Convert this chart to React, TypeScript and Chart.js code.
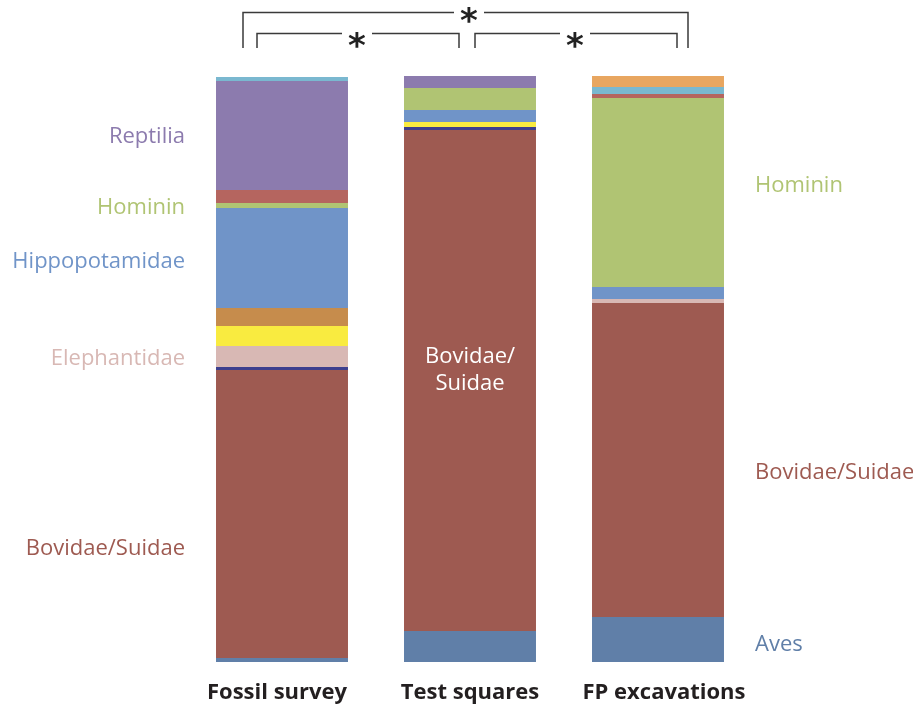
import React, { useEffect, useRef } from "react";
import { Chart, registerables } from "chart.js";

Chart.register(...registerables);

const categories = ["Fossil survey", "Test squares", "FP excavations"];

// Percent of specimens per taxon, stacked bottom to top
const aves = [0.68, 5.29, 7.68];
const bovidaeSuidae = [49.15, 85.49, 53.58];
const otherDarkBlue = [0.51, 0.51, 0];
const elephantidae = [3.58, 0, 0.68];
const otherYellow = [3.41, 0.85, 0];
const otherBrown = [3.07, 0, 0];
const hippopotamidae = [17.06, 2.05, 2.05];
const hominin = [0.85, 3.75, 32.25];
const otherRed = [2.22, 0, 0.68];
const reptilia = [18.6, 2.05, 0];
const otherCyan = [0.68, 0, 1.19];
const otherOrange = [0, 0, 2.05];

const seriesNames = [
  "Aves", "Bovidae/Suidae", "Other taxon A", "Elephantidae", "Other taxon B",
  "Other taxon C", "Hippopotamidae", "Hominin", "Other taxon D", "Reptilia",
  "Other taxon E", "Other taxon F",
];
const seriesValues = [
  aves, bovidaeSuidae, otherDarkBlue, elephantidae, otherYellow, otherBrown,
  hippopotamidae, hominin, otherRed, reptilia, otherCyan, otherOrange,
];
const seriesColors = [
  "#607FA8", "#9E5A51", "#3D3F8E", "#D8B8B4", "#F9EB40", "#C68C4C",
  "#7094C8", "#B0C473", "#B5655F", "#8C7BAE", "#7AB8D0", "#E8A660",
];

// side labels: text, colour index, value on the percent axis
const leftLabels = [
  { text: "Reptilia", color: 9, value: 89.9 },
  { text: "Hominin", color: 7, value: 77.9 },
  { text: "Hippopotamidae", color: 6, value: 68.6 },
  { text: "Elephantidae", color: 3, value: 52.05 },
  { text: "Bovidae/Suidae", color: 1, value: 19.6 },
];
const rightLabels = [
  { text: "Hominin", color: 7, value: 81.6 },
  { text: "Bovidae/Suidae", color: 1, value: 32.6 },
  { text: "Aves", color: 0, value: 3.24 },
];
const innerLabelLines = ["Bovidae/", "Suidae"];

const FONT = "'Open Sans', 'Noto Sans', sans-serif";

const overlayPlugin = {
  id: "overlay",
  afterDraw(chart: any) {
    const ctx = chart.ctx;
    const xs = chart.scales.x;
    const ys = chart.scales.y;
    const x0 = xs.getPixelForValue(0);
    const x1 = xs.getPixelForValue(1);
    const x2 = xs.getPixelForValue(2);
    ctx.save();

    // side labels
    ctx.font = `22px ${FONT}`;
    ctx.textBaseline = "middle";
    ctx.textAlign = "right";
    for (const l of leftLabels) {
      ctx.fillStyle = seriesColors[l.color];
      ctx.fillText(l.text, x0 - 97, ys.getPixelForValue(l.value) + 2);
    }
    ctx.textAlign = "left";
    for (const l of rightLabels) {
      ctx.fillStyle = seriesColors[l.color];
      ctx.fillText(l.text, x2 + 97, ys.getPixelForValue(l.value) + 2);
    }

    // inner label
    ctx.textAlign = "center";
    ctx.fillStyle = "#FFFFFF";
    ctx.fillText(innerLabelLines[0], x1, ys.getPixelForValue(52.4) + 2);
    ctx.fillText(innerLabelLines[1], x1, ys.getPixelForValue(47.8) + 2);

    // category labels
    ctx.font = `bold 22px ${FONT}`;
    ctx.fillStyle = "#231F20";
    const catShift = [-5, 0, 6];
    categories.forEach((c, i) => {
      ctx.fillText(c, xs.getPixelForValue(i) + catShift[i], chart.chartArea.bottom + 31);
    });

    // significance brackets
    ctx.strokeStyle = "#3A3A3A";
    ctx.lineWidth = 1.5;
    const bottomY = 48;
    const brackets = [
      { a: x0 - 39, b: x2 + 30, y: 12.5, star: (x1 + x2) / 2 - 95, sy: 15, gap: 15 },
      { a: x0 - 25, b: x1 - 11, y: 33.5, star: (x0 + x1) / 2 - 19, sy: 40, gap: 15 },
      { a: x1 + 5, b: x2 + 19, y: 33.5, star: (x1 + x2) / 2 + 11, sy: 40, gap: 15 },
    ];
    for (const br of brackets) {
      ctx.beginPath();
      ctx.moveTo(br.a, bottomY);
      ctx.lineTo(br.a, br.y);
      ctx.lineTo(br.star - br.gap, br.y);
      ctx.moveTo(br.star + br.gap, br.y);
      ctx.lineTo(br.b, br.y);
      ctx.lineTo(br.b, bottomY);
      ctx.stroke();
      ctx.font = `bold 34px 'DejaVu Sans', sans-serif`;
      ctx.fillStyle = "#222222";
      ctx.textBaseline = "alphabetic";
      ctx.textAlign = "left";
      const m = ctx.measureText("*");
      const w = m.actualBoundingBoxRight + m.actualBoundingBoxLeft;
      const h = m.actualBoundingBoxAscent + m.actualBoundingBoxDescent;
      ctx.fillText(
        "*",
        br.star - w / 2 + m.actualBoundingBoxLeft,
        br.sy + h / 2 - m.actualBoundingBoxDescent
      );
    }
    ctx.restore();
  },
};

export default function App() {
  const ref = useRef<HTMLCanvasElement | null>(null);
  useEffect(() => {
    if (!ref.current) return;
    const chart = new Chart(ref.current, {
      type: "bar",
      data: {
        labels: categories,
        datasets: seriesNames.map((name, i) => ({
          label: name,
          data: seriesValues[i],
          backgroundColor: seriesColors[i],
          borderWidth: 0,
          categoryPercentage: 1,
          barPercentage: 0.702,
        })),
      },
      options: {
        animation: false,
        responsive: false,
        devicePixelRatio: 1,
        layout: { padding: { left: 188, right: 161, top: 76, bottom: 45 } },
        plugins: {
          legend: { display: false },
          tooltip: { enabled: false },
        },
        scales: {
          x: { stacked: true, display: false },
          y: { stacked: true, display: false, min: 0, max: 100 },
        },
      },
      plugins: [overlayPlugin],
    });
    return () => chart.destroy();
  }, []);
  return (
    <div style={{ position: "absolute", left: 0, top: 0, width: 913, height: 707, background: "#fff" }}>
      <canvas ref={ref} width={913} height={707} />
    </div>
  );
}
